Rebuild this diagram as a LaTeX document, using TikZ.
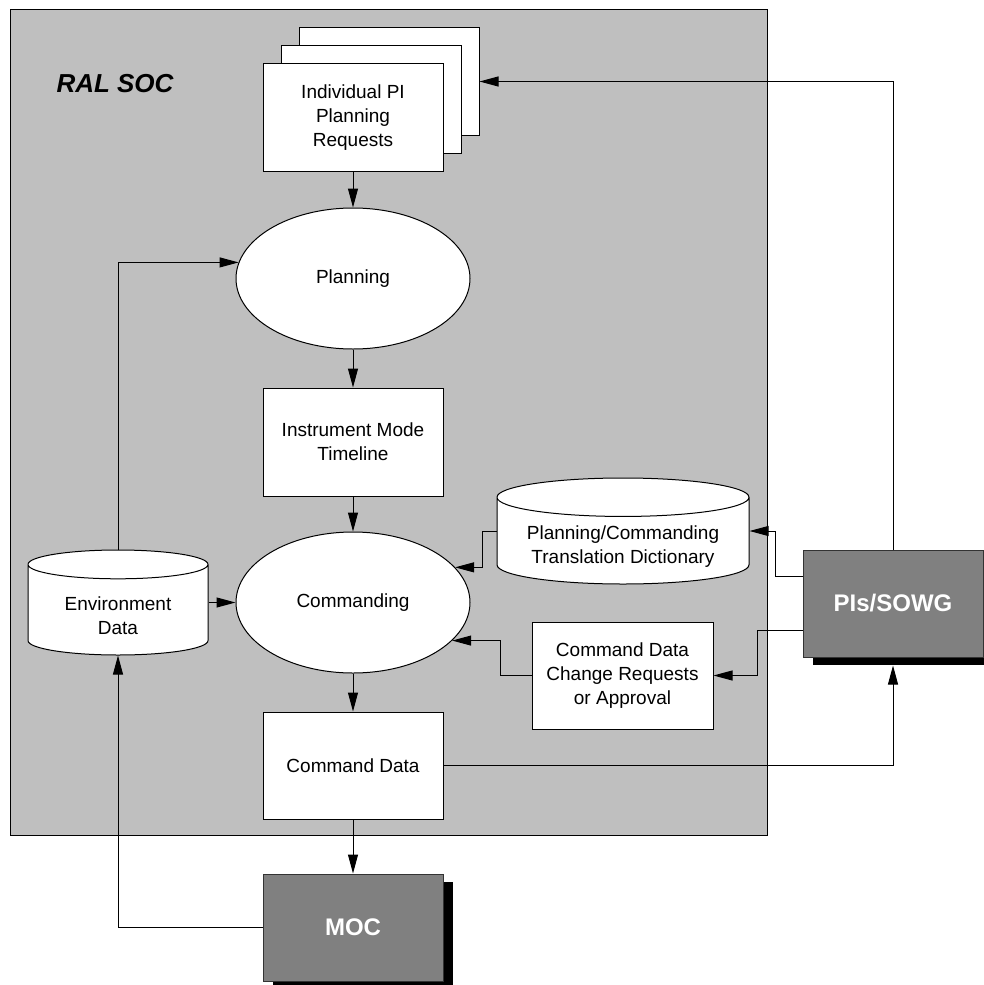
\documentclass[tikz,border=0pt]{standalone}
\usepackage{fontspec}
\setmainfont{Liberation Sans}
\usetikzlibrary{shapes.geometric,shadows,arrows.meta}

\begin{document}
\begin{tikzpicture}[x=0.5pt,y=-0.5pt,>={Triangle[length=9.5pt,width=5pt]},line width=0.5pt,
	font=\fontsize{9.5}{12}\selectfont,
	box/.style={draw,fill=white,align=center,minimum width=90pt,minimum height=54pt,inner sep=0pt},
	proc/.style={draw,fill=white,ellipse,minimum width=117pt,minimum height=70.5pt,inner sep=0pt},
	store/.style={draw,fill=white,cylinder,shape border rotate=90,align=center,inner sep=0pt,
		anchor=shape center},
	ext/.style={draw=black!80,fill=gray,minimum width=90pt,minimum height=53.5pt,text=white,
		font=\fontsize{12}{14}\selectfont\bfseries,
		drop shadow={shadow xshift=5pt,shadow yshift=-4pt,fill=black,opacity=1}}]
	\useasboundingbox (0,0) rectangle (984,985);
	\filldraw [fill=black!25] (10,9) rectangle (767,835);
	\node (soc) at (115,84) {\fontsize{13}{15}\selectfont\bfseries\itshape RAL SOC};
	\node [box,copy shadow={shadow xshift=18pt,shadow yshift=18pt,fill=white,draw},
		copy shadow={shadow xshift=9pt,shadow yshift=9pt,fill=white,draw}] (req) at (353,117.5) {Individual PI\\Planning\\Requests};
	\coordinate (reqback) at ([shift={(18pt,18pt)}]req.east);
	\node [proc] (plan) at (353,278.5) {Planning};
	\node [box] (timeline) at (353,442) {Instrument Mode\\Timeline};
	\node [proc] (cmd) at (353,602.5) {Commanding};
	\node [box,minimum height=53.5pt] (cmddata) at (353,765.5) {Command Data};
	\node [ext] (moc) at (353,927.5) {MOC};
	\node [store,minimum width=90pt,minimum height=52.5pt,aspect=0.27,text height=24.9pt,text depth=-9.3pt] (env) at (118,602.5) {Environment\\Data};
	\node [store,minimum width=126pt,minimum height=53pt,aspect=0.2,text height=22.9pt,text depth=-7.8pt] (dict) at (623,531) {Planning/Commanding\\Translation Dictionary};
	\node [box,minimum width=90.5pt,minimum height=53.5pt] (cdcr) at (622.5,675.5) {Command Data\\Change Requests\\or Approval};
	\node [ext] (pis) at (893,603.5) {PIs/SOWG};

	\draw [->] (req) -- (plan);
	\draw [->] (plan) -- (timeline);
	\draw [->] (timeline) -- (cmd);
	\draw [->] (cmd) -- (cmddata);
	\draw [->] (cmddata) -- (moc);
	\draw [->] (moc.west) -| (env.south);
	\draw [->] (env.shape center -| env.east) -- (cmd.west);
	\draw [->] (env.north) |- (plan.172);
	\draw [->] (pis.north) |- (reqback);
	\draw [->] ([yshift=-13.5pt]pis.north west) -- ++(-13.5pt,0) |- (dict.shape center -| dict.east);
	\draw [->] ([yshift=-40.5pt]pis.north west) -- ++(-22.5pt,0) |- (cdcr.east);
	\draw [->] (cdcr.west) -- ++(-15.5pt,0) |- (cmd.339);
	\draw [->] (dict.shape center -| dict.west) -- ++(-7pt,0) |- (cmd.19);
	\draw [->] (cmddata.east) -| ([yshift=-4pt]pis.south);
\end{tikzpicture}
\end{document}
